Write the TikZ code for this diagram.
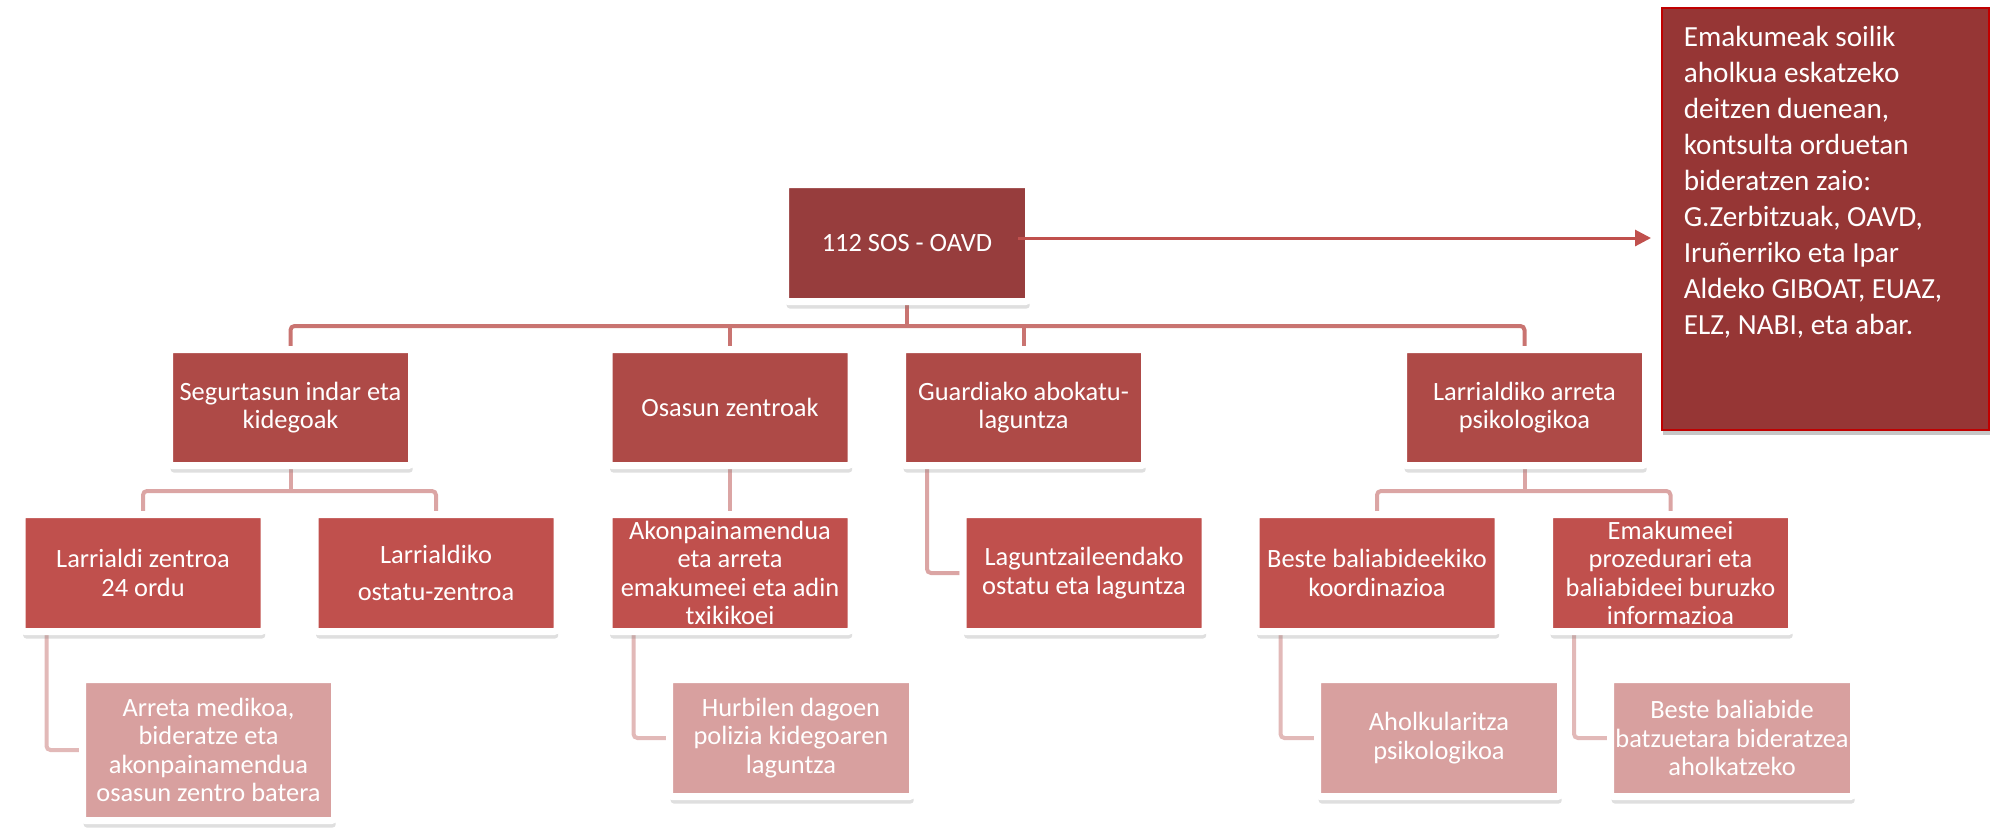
\documentclass[tikz,border=0pt]{standalone}
\usepackage{fontspec}
\setmainfont{Carlito}
\usepackage{tikz}
\usetikzlibrary{arrows.meta}
\usetikzlibrary{shadows}
\usetikzlibrary{backgrounds}

\definecolor{topred}{HTML}{973D3D}
\definecolor{onered}{HTML}{AE4A47}
\definecolor{twored}{HTML}{C0504D}
\definecolor{threered}{HTML}{D8A09F}
\definecolor{notered}{HTML}{963635}
\definecolor{noteedge}{HTML}{C00000}
\definecolor{linezero}{HTML}{C97471}
\definecolor{lineone}{HTML}{DBA5A4}
\definecolor{linetwo}{HTML}{E2B9B8}

\tikzset{
% Define standard arrow tip
>={Triangle[length=8pt, width=8pt]},
box/.style={rectangle, draw=white, line width=3.5pt, rounded corners=1.5pt,
  minimum width=121pt, minimum height=58.5pt, inner sep=0pt,
  align=center, text=white, font=\fontsize{13.2pt}{14.3pt}\selectfont,
  drop shadow={opacity=0.25, shadow xshift=0.6pt, shadow yshift=-3.5pt}},
topbox/.style={box, fill=topred, minimum width=121.5pt},
onebox/.style={box, fill=onered, minimum height=58pt},
twobox/.style={box, fill=twored},
threebox/.style={box, fill=threered, minimum width=121.5pt},
note/.style={rectangle, draw=noteedge, line width=0.8pt, fill=notered,
  anchor=north west, inner xsep=11pt, inner ysep=9pt, text=white,
  font=\fontsize{14.6pt}{18pt}\selectfont,
  drop shadow={opacity=0.45, fill=gray, shadow xshift=0.8pt, shadow yshift=-2.5pt}},
zeroline/.style={draw=linezero, line width=2pt, rounded corners=2pt},
oneline/.style={draw=lineone, line width=2pt, rounded corners=2pt},
twoline/.style={draw=linetwo, line width=2pt, rounded corners=2pt}
}

\begin{document}
\begin{tikzpicture}[x=0.5pt, y=-0.5pt]
  \useasboundingbox (0,0) rectangle (1994,827);

  % top
  \node[topbox] (top) at (907,243) {112 SOS - OAVD};

  \node[note] (note) at (1661,7) {\parbox[t][193pt][t]{141.5pt}{\raggedright
    Emakumeak soilik\\
    aholkua eskatzeko\\
    deitzen duenean,\\
    kontsulta orduetan\\
    bideratzen zaio:\\
    G.Zerbitzuak, OAVD,\\
    Iruñerriko eta Ipar\\
    Aldeko GIBOAT, EUAZ,\\
    ELZ, NABI, eta abar.}};

  % level 1
  \node[onebox] (seg) at (290.5,407.5) {Segurtasun indar eta\\kidegoak};
  \node[onebox] (osa) at (730,407.5) {Osasun zentroak};
  \node[onebox] (gua) at (1023.5,407.5) {Guardiako abokatu-\\laguntza};
  \node[onebox] (lap) at (1524.5,407.5) {Larrialdiko arreta\\psikologikoa};

  % level 2
  \node[twobox] (lz) at (143,573) {Larrialdi zentroa\\24 ordu};
  \node[twobox] (lo) at (436,573) {Larrialdiko\\[4pt]ostatu-zentroa};
  \node[twobox] (ak) at (730,573) {Akonpainamendua\\eta arreta\\emakumeei eta adin\\txikikoei};
  \node[twobox] (la) at (1084,573) {Laguntzaileendako\\ostatu eta laguntza};
  \node[twobox] (bb) at (1377,573) {Beste baliabideekiko\\koordinazioa};
  \node[twobox] (em) at (1670.5,573) {Emakumeei\\prozedurari eta\\baliabideei buruzko\\informazioa};

  % level 3
  \node[threebox, minimum width=126pt, minimum height=70.5pt] (am) at (208.5,750) {Arreta medikoa,\\bideratze eta\\akonpainamendua\\osasun zentro batera};
  \node[threebox] (hu) at (791,738) {Hurbilen dagoen\\polizia kidegoaren\\laguntza};
  \node[threebox] (ah) at (1439,738) {Aholkularitza\\psikologikoa};
  \node[threebox] (bbi) at (1732,738) {Beste baliabide\\batzuetara bideratzea\\aholkatzeko};

  % connectors
  \coordinate (bus) at ([yshift=-10.5pt]top.south);
  \coordinate (segbus) at ([yshift=-11pt]seg.south);
  \coordinate (lapbus) at ([yshift=-11pt]lap.south);
  \begin{scope}[on background layer]
    \draw[zeroline] (top) -- (bus);
    \draw[zeroline] (seg) |- (bus) -| (lap);
    \draw[zeroline] (osa) -- (osa |- bus);
    \draw[zeroline] (gua) -- (gua |- bus);

    \draw[oneline] (seg) -- (segbus);
    \draw[oneline] (lz) |- (segbus) -| (lo);
    \draw[oneline] (osa) -- (ak);
    \draw[oneline] ([xshift=14pt]gua.south west) |- (la);
    \draw[oneline] (lap) -- (lapbus);
    \draw[oneline] (bb) |- (lapbus) -| (em);

    \draw[twoline] ([xshift=14pt]lz.south west) |- (am);
    \draw[twoline] ([xshift=14pt]ak.south west) |- (hu);
    \draw[twoline] ([xshift=14pt]bb.south west) |- (ah);
    \draw[twoline] ([xshift=14pt]em.south west) |- (bbi);
  \end{scope}

  \draw[->, draw=twored, fill=twored, line width=1.5pt, shorten >=5pt]
    ([xshift=-7pt, yshift=2.5pt]top.east) -- ([yshift=2.5pt]top.east -| note.west);
\end{tikzpicture}
\end{document}
